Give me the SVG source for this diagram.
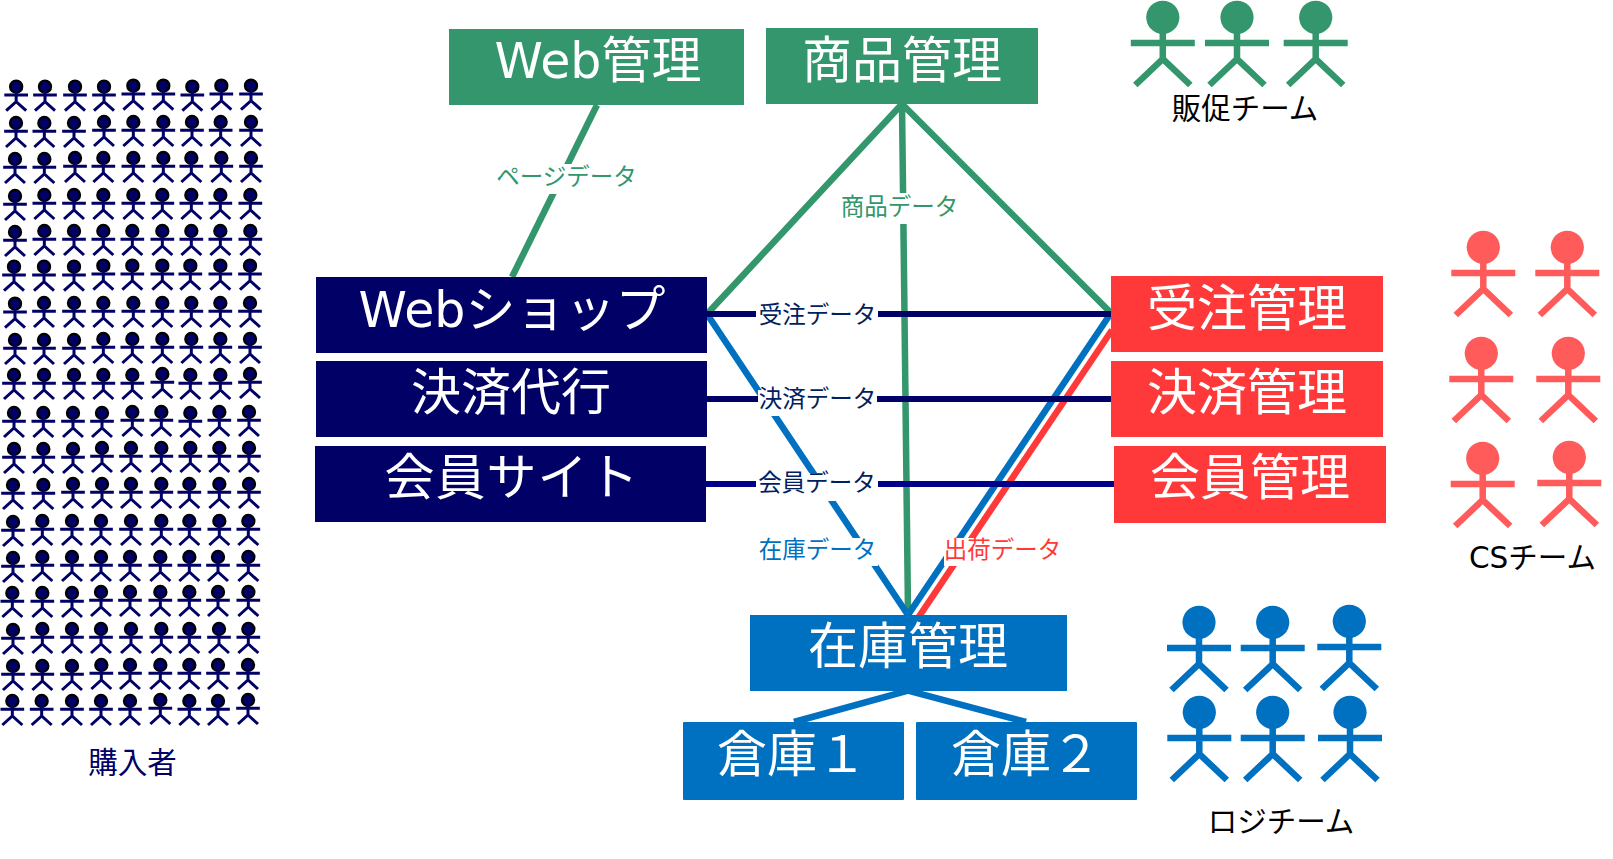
<svg xmlns="http://www.w3.org/2000/svg" xmlns:xlink="http://www.w3.org/1999/xlink" width="1613" height="859" viewBox="0 0 1613 859">
<style>
text{font-family:"DejaVu Sans","Noto Sans CJK JP",sans-serif;text-anchor:middle}
.big{font-size:50px;fill:#fff}
.lat{font-size:49px}
.wide{letter-spacing:1px}
.lbl{font-size:23.500px}
.team{font-size:29.500px;fill:#000}
.green{fill:#33966c}.navy{fill:#000066}.red{fill:#ff3939}.blue{fill:#0070c0}
text.navy{fill:#000066}
line,polyline{fill:none}
.cg{stroke:#33966c;stroke-width:6.500}
.cb{stroke:#0070c0;stroke-width:6.500}
.cr{stroke:#ff3939;stroke-width:6.500}
.cn{stroke:#000066;stroke-width:6}
.cd{stroke:#000088;stroke-width:6}
.mask{fill:#fff}
.tn{fill:#002060}.tb{fill:#0070c0}.tr{fill:#ff3939}.tg{fill:#33966c}
</style>
<defs>
<g id="mini" fill="none" stroke="#000066" stroke-width="9">
<circle cy="-25" r="18" fill="#000066" stroke="#000" stroke-width="7"/>
<path d="M0-25V20M-35.500 0H35.500M-30 47L0 20L30 47"/>
</g>
<g id="man" fill="none" stroke="currentColor" stroke-width="6.500">
<circle cy="-25.700" r="16.600" fill="currentColor" stroke="none"/>
<path d="M0-12V16M-32 0H32M-27.500 42L0 16L27.500 42"/>
</g>
</defs>
<g id="connectors">
<line class="cg" x1="597" y1="105" x2="512" y2="277"/>
<line class="cg" x1="902" y1="104" x2="707" y2="314"/>
<line class="cg" x1="902" y1="104" x2="1111" y2="313"/>
<line class="cg" x1="902" y1="104" x2="908" y2="612"/>
<line class="cb" x1="707" y1="314" x2="908" y2="615"/>
<line class="cr" x1="1112" y1="330" x2="916" y2="621"/>
<line class="cb" x1="1111" y1="313" x2="908" y2="615"/>
<line class="cn" x1="707" y1="314" x2="1111" y2="314"/>
<line class="cn" x1="707" y1="399" x2="1111" y2="399"/>
<line class="cd" x1="706" y1="484" x2="1114" y2="484"/>
<polyline class="cb" points="794,722 908,690.500 1026,722"/>
<g id="edge-labels">
<rect class="mask" x="496" y="164" width="141" height="30"/>
<text class="lbl tg" x="566.500" y="185">ページデータ</text>
<rect class="mask" x="841" y="193" width="118" height="31"/>
<text class="lbl tg" x="899.500" y="215">商品データ</text>
<rect class="mask" x="756" y="300" width="122" height="30"/>
<text class="lbl tn" x="817.500" y="323">受注データ</text>
<rect class="mask" x="758" y="390" width="119" height="26"/>
<text class="lbl tn" x="817.500" y="407">決済データ</text>
<rect class="mask" x="756" y="473" width="122" height="28"/>
<text class="lbl tn" x="817" y="491">会員データ</text>
<rect class="mask" x="757" y="538" width="121" height="28"/>
<text class="lbl tb" x="817.500" y="558">在庫データ</text>
<rect class="mask" x="944" y="538" width="120" height="28"/>
<text class="lbl tr" x="1002.500" y="558">出荷データ</text>
</g>
</g>
<g id="node-web-admin"><rect class="green" x="449" y="29" width="295" height="76"/><text class="big" x="598" y="78"><tspan class="lat">Web</tspan>管理</text></g>
<g id="node-product"><rect class="green" x="766" y="28" width="272" height="76"/><text class="big" x="902" y="78">商品管理</text></g>
<g id="node-webshop"><rect class="navy" x="316" y="277" width="391" height="76"/><text class="big" x="512" y="327"><tspan class="lat">Web</tspan>ショップ</text></g>
<g id="node-payment-agent"><rect class="navy" x="316" y="361" width="391" height="76"/><text class="big" x="511" y="410">決済代行</text></g>
<g id="node-member-site"><rect class="navy" x="315" y="446" width="391" height="76"/><text class="big wide" x="512" y="495">会員サイト</text></g>
<g id="node-orders"><rect class="red" x="1111" y="276" width="272" height="76"/><text class="big" x="1247" y="326">受注管理</text></g>
<g id="node-payments"><rect class="red" x="1111" y="361" width="272" height="76"/><text class="big" x="1247" y="410">決済管理</text></g>
<g id="node-members"><rect class="red" x="1114" y="446" width="272" height="77"/><text class="big" x="1250" y="495">会員管理</text></g>
<g id="node-inventory"><rect class="blue" x="750" y="615" width="317" height="76"/><text class="big" x="908" y="664">在庫管理</text></g>
<g id="node-warehouse1"><rect class="blue" x="683" y="722" width="221" height="78" rx="1"/><text class="big" x="792" y="772">倉庫１</text></g>
<g id="node-warehouse2"><rect class="blue" x="916" y="722" width="221" height="78" rx="1"/><text class="big" x="1026" y="772">倉庫２</text></g>
<g id="team-promo" style="color:#33966c">
<use xlink:href="#man" href="#man" x="1162.800" y="43"/>
<use xlink:href="#man" href="#man" x="1237" y="43"/>
<use xlink:href="#man" href="#man" x="1315.700" y="43"/>
<text class="team" x="1245" y="119">販促チーム</text>
</g>
<g id="team-cs" style="color:#ff5b5b">
<use xlink:href="#man" href="#man" x="1483.300" y="273"/>
<use xlink:href="#man" href="#man" x="1567.300" y="273"/>
<use xlink:href="#man" href="#man" x="1481.300" y="379"/>
<use xlink:href="#man" href="#man" x="1568.300" y="379"/>
<use xlink:href="#man" href="#man" x="1482.700" y="484"/>
<use xlink:href="#man" href="#man" x="1569.300" y="483"/>
<text class="team" x="1532.500" y="568">CSチーム</text>
</g>
<g id="team-logistics" style="color:#0070c0">
<use xlink:href="#man" href="#man" x="1199" y="648"/>
<use xlink:href="#man" href="#man" x="1272.700" y="648"/>
<use xlink:href="#man" href="#man" x="1349.300" y="647"/>
<use xlink:href="#man" href="#man" x="1199.300" y="738"/>
<use xlink:href="#man" href="#man" x="1272.700" y="738"/>
<use xlink:href="#man" href="#man" x="1350" y="738"/>
<text class="team" x="1281" y="832">ロジチーム</text>
</g>
<g id="buyers">
<g transform="translate(0,60) scale(.33333)">
<use href="#mini" x="48.500" y="105"/><use href="#mini" x="135" y="105"/><use href="#mini" x="225" y="105"/><use href="#mini" x="312" y="105"/><use href="#mini" x="400" y="102"/><use href="#mini" x="490" y="102"/><use href="#mini" x="577" y="105"/><use href="#mini" x="664" y="102"/><use href="#mini" x="753" y="102"/>
<use href="#mini" x="48" y="214"/><use href="#mini" x="133" y="214"/><use href="#mini" x="222" y="214"/><use href="#mini" x="312" y="211"/><use href="#mini" x="400" y="211"/><use href="#mini" x="490" y="211"/><use href="#mini" x="576" y="211"/><use href="#mini" x="662" y="211"/><use href="#mini" x="753" y="211"/>
<use href="#mini" x="45" y="322"/><use href="#mini" x="133" y="322"/><use href="#mini" x="225" y="319"/><use href="#mini" x="310" y="319"/><use href="#mini" x="400" y="319"/><use href="#mini" x="490" y="319"/><use href="#mini" x="574" y="319"/><use href="#mini" x="664" y="319"/><use href="#mini" x="753" y="319"/>
<use href="#mini" x="45" y="433"/><use href="#mini" x="133" y="430"/><use href="#mini" x="222" y="430"/><use href="#mini" x="310" y="430"/><use href="#mini" x="400" y="430"/><use href="#mini" x="487" y="430"/><use href="#mini" x="574" y="430"/><use href="#mini" x="661" y="430"/><use href="#mini" x="751" y="430"/>
<use href="#mini" x="45" y="541"/><use href="#mini" x="133" y="538"/><use href="#mini" x="222" y="538"/><use href="#mini" x="310" y="538"/><use href="#mini" x="397" y="538"/><use href="#mini" x="487" y="538"/><use href="#mini" x="574" y="538"/><use href="#mini" x="661" y="538"/><use href="#mini" x="751" y="538"/>
</g>
<g transform="translate(0,240) scale(.33333)">
<use href="#mini" x="42" y="105"/><use href="#mini" x="132" y="105"/><use href="#mini" x="222" y="105"/><use href="#mini" x="310" y="102"/><use href="#mini" x="397" y="102"/><use href="#mini" x="487" y="102"/><use href="#mini" x="571" y="102"/><use href="#mini" x="661" y="102"/><use href="#mini" x="750" y="102"/>
<use href="#mini" x="45" y="216"/><use href="#mini" x="132" y="214"/><use href="#mini" x="222" y="214"/><use href="#mini" x="310" y="214"/><use href="#mini" x="400" y="214"/><use href="#mini" x="487" y="214"/><use href="#mini" x="574" y="214"/><use href="#mini" x="661" y="214"/><use href="#mini" x="750" y="214"/>
<use href="#mini" x="45" y="325"/><use href="#mini" x="132" y="325"/><use href="#mini" x="222" y="325"/><use href="#mini" x="310" y="322"/><use href="#mini" x="397" y="322"/><use href="#mini" x="487" y="322"/><use href="#mini" x="574" y="322"/><use href="#mini" x="661" y="322"/><use href="#mini" x="750" y="322"/>
<use href="#mini" x="42" y="430"/><use href="#mini" x="132" y="430"/><use href="#mini" x="222" y="430"/><use href="#mini" x="310" y="430"/><use href="#mini" x="397" y="430"/><use href="#mini" x="487" y="427"/><use href="#mini" x="571" y="430"/><use href="#mini" x="661" y="430"/><use href="#mini" x="750" y="427"/>
<use href="#mini" x="42" y="544"/><use href="#mini" x="130" y="544"/><use href="#mini" x="219" y="544"/><use href="#mini" x="306" y="544"/><use href="#mini" x="397" y="541"/><use href="#mini" x="484" y="541"/><use href="#mini" x="571" y="544"/><use href="#mini" x="658" y="541"/><use href="#mini" x="747" y="541"/>
</g>
<g transform="translate(0,440) scale(.33333)">
<use href="#mini" x="42" y="52"/><use href="#mini" x="130" y="52"/><use href="#mini" x="219" y="52"/><use href="#mini" x="306" y="49"/><use href="#mini" x="393" y="49"/><use href="#mini" x="484" y="49"/><use href="#mini" x="571" y="49"/><use href="#mini" x="658" y="49"/><use href="#mini" x="747" y="49"/>
<use href="#mini" x="39" y="160"/><use href="#mini" x="130" y="160"/><use href="#mini" x="219" y="157"/><use href="#mini" x="306" y="157"/><use href="#mini" x="393" y="157"/><use href="#mini" x="484" y="157"/><use href="#mini" x="568" y="157"/><use href="#mini" x="658" y="157"/><use href="#mini" x="747" y="157"/>
<use href="#mini" x="39" y="271"/><use href="#mini" x="127" y="268"/><use href="#mini" x="216" y="268"/><use href="#mini" x="303" y="268"/><use href="#mini" x="393" y="268"/><use href="#mini" x="484" y="268"/><use href="#mini" x="568" y="268"/><use href="#mini" x="658" y="268"/><use href="#mini" x="745" y="268"/>
<use href="#mini" x="39" y="379"/><use href="#mini" x="127" y="376"/><use href="#mini" x="216" y="376"/><use href="#mini" x="303" y="376"/><use href="#mini" x="390" y="376"/><use href="#mini" x="481" y="376"/><use href="#mini" x="568" y="376"/><use href="#mini" x="654" y="376"/><use href="#mini" x="745" y="376"/>
<use href="#mini" x="37" y="484"/><use href="#mini" x="127" y="484"/><use href="#mini" x="216" y="484"/><use href="#mini" x="303" y="481"/><use href="#mini" x="390" y="481"/><use href="#mini" x="481" y="481"/><use href="#mini" x="568" y="481"/><use href="#mini" x="654" y="481"/><use href="#mini" x="745" y="481"/>
<use href="#mini" x="39" y="595"/><use href="#mini" x="127" y="592"/><use href="#mini" x="216" y="592"/><use href="#mini" x="303" y="592"/><use href="#mini" x="393" y="592"/><use href="#mini" x="484" y="592"/><use href="#mini" x="568" y="592"/><use href="#mini" x="657" y="592"/><use href="#mini" x="745" y="592"/>
</g>
<g transform="translate(0,640) scale(.33333)">
<use href="#mini" x="39" y="103"/><use href="#mini" x="127" y="103"/><use href="#mini" x="216" y="103"/><use href="#mini" x="304" y="100"/><use href="#mini" x="390" y="100"/><use href="#mini" x="481" y="100"/><use href="#mini" x="568" y="100"/><use href="#mini" x="654" y="100"/><use href="#mini" x="744" y="100"/>
<use href="#mini" x="37" y="208"/><use href="#mini" x="125" y="208"/><use href="#mini" x="216" y="208"/><use href="#mini" x="303" y="208"/><use href="#mini" x="390" y="208"/><use href="#mini" x="481" y="205"/><use href="#mini" x="568" y="208"/><use href="#mini" x="654" y="208"/><use href="#mini" x="744" y="205"/>
</g>
<text class="team navy" x="132.500" y="773">購入者</text>
</g>
</svg>
